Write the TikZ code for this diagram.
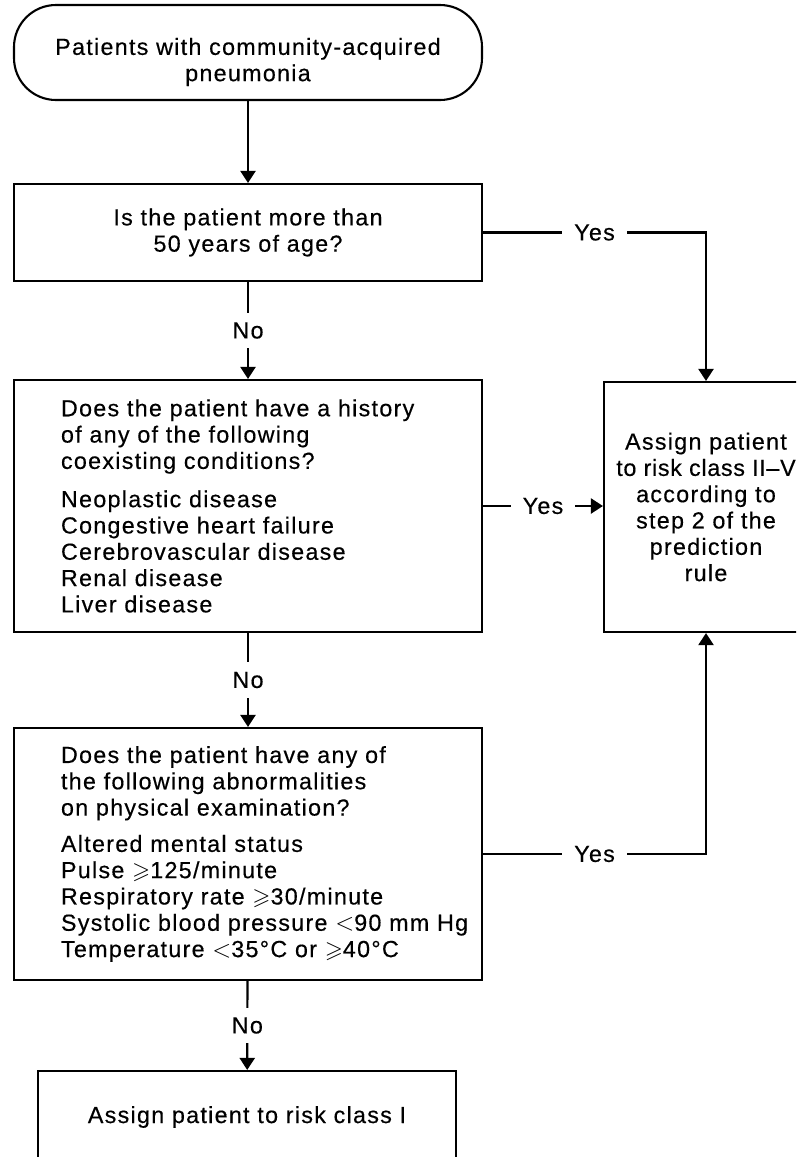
\documentclass[tikz,border=0pt]{standalone}
\usepackage{amssymb}
\usepackage{fontspec}
\setmainfont{Liberation Sans}[LetterSpace=5.5,FakeBold=0.4]
\usetikzlibrary{arrows.meta}

\begin{document}
\begin{tikzpicture}[x=1pt,y=-1pt,->,>={Triangle[width=15pt,length=12pt]},line width=2.1pt,
  every node/.style={font=\fontsize{23.3}{26.3}\selectfont},
  box/.style={rectangle,draw,inner sep=0pt,align=center,minimum width=468pt},
  start node/.style={box,rounded corners=42pt,minimum height=95pt},
  list node/.style={box,minimum height=252pt,text width=464pt,inner xsep=2pt,align=left,
    execute at begin node={\leftskip=45pt}},
  label node/.style={fill=white,inner xsep=12pt,inner ysep=9.5pt}]

  \path[use as bounding box,clip] (0,0) rectangle (796,1157);

  \node[start node] (start) at (248,52.5) {};
  \node[align=center] (starttext) at (248,62) {Patients with community-acquired\\pneumonia};
  \node[box,minimum height=97pt] (age) at (248,232.5) {Is the patient more than\\50 years of age?};

  \node[list node] (hist) at (248,506) {Does the patient have a history\\of any of the following\\coexisting conditions?\\[12pt]
    Neoplastic disease\\Congestive heart failure\\Cerebrovascular disease\\Renal disease\\Liver disease};
  \node[list node] (exam) at (248,854) {Does the patient have any of\\the following abnormalities\\on physical examination?\\[10pt]
    Altered mental status\\Pulse $\geqslant$125/minute\\Respiratory rate $\geqslant$30/minute\\
    Systolic blood pressure $<$90 mm Hg\\Temperature $<$35°C or $\geqslant$40°C};

  \node[box,minimum width=204pt,minimum height=250pt] (risk) at (706,507) {Assign patient\\{\addfontfeature{LetterSpace=3}to risk class II--V}\\according to\\step 2 of the\\prediction\\rule};
  \node[box,minimum width=418pt,minimum height=92pt] (class1) at (247,1117) {Assign patient to risk class I};

  \path
    (start) edge (age)
    (age) edge node[label node] {No} (hist)
    (hist) edge node[label node] {No} (exam)
    (exam) edge node[label node] {No} (class1);

  \draw (age.east) -| node[label node,pos=0.25] {Yes} (risk.north);
  \draw (hist.east) -- node[label node] {Yes} (hist.east -| risk.west);
  \draw (exam.east) -| node[label node,pos=0.25] {Yes} (risk.south);

\end{tikzpicture}
\end{document}
